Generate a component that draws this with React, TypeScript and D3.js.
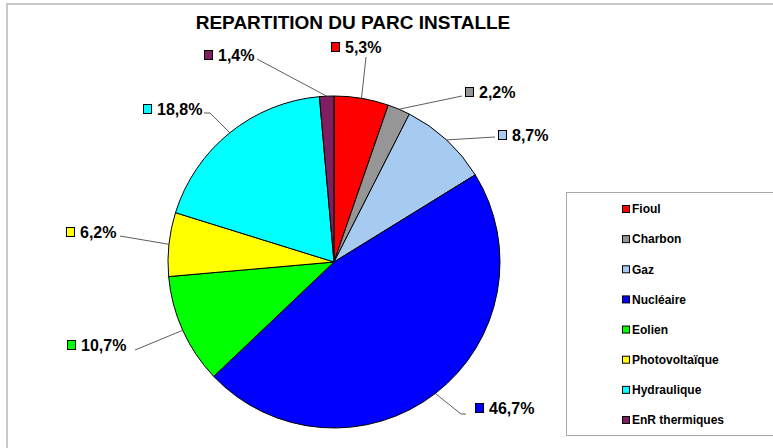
import * as d3 from 'd3';
import React, { useRef, useEffect } from 'react';

const categories = ['Fioul', 'Charbon', 'Gaz', 'Nucléaire', 'Eolien', 'Photovoltaïque', 'Hydraulique', 'EnR thermiques'];
const shares = [5.3, 2.2, 8.7, 46.7, 10.7, 6.2, 18.8, 1.4];
const shareLabels = ['5,3%', '2,2%', '8,7%', '46,7%', '10,7%', '6,2%', '18,8%', '1,4%'];
const colors = ['#ff0000', '#969696', '#a6caf0', '#0000ff', '#00ff00', '#ffff00', '#00ffff', '#7f1f5f'];

// where Excel put each data label: swatch left, label middle, leader start
const labelLayout = [
    { x: 331, y: 47, lx: 366, ly: 57 },
    { x: 465, y: 92, lx: 462, ly: 96 },
    { x: 498, y: 135, lx: 495, ly: 137 },
    { x: 475, y: 408, lx: 466, ly: 414, elbow: true },
    { x: 67, y: 345, lx: 135, ly: 350 },
    { x: 66, y: 232, lx: 120, ly: 236 },
    { x: 143, y: 109, lx: 204, ly: 113, elbow: true },
    { x: 204, y: 55, lx: 257, ly: 59 },
];

const font = 'Liberation Sans, Arial, sans-serif';

function PieChart({ width, height }) {
    const ref = useRef();

    useEffect(() => {
        const svg = d3.select(ref.current);
        svg.selectAll('*').remove();

        const cx = 334, cy = 262, radius = 166;

        // outer chart frame (cut by the window on the right and bottom)
        svg.append('rect')
            .attr('x', 7).attr('y', 4)
            .attr('width', 900).attr('height', 600)
            .style('fill', '#fff')
            .style('stroke', '#c8c8c8')
            .style('stroke-width', 2);

        svg.append('text')
            .attr('x', 353).attr('y', 29)
            .attr('text-anchor', 'middle')
            .style('font-family', font)
            .style('font-weight', 'bold')
            .style('font-size', '19px')
            .text('REPARTITION DU PARC INSTALLE');

        const data = categories.map((c, i) => ({ name: c, value: shares[i], label: shareLabels[i], color: colors[i] }));
        const pie = d3.pie().sort(null).value(d => d.value);
        const arcs = pie(data);
        const arc = d3.arc().innerRadius(0).outerRadius(radius);

        const g = svg.append('g').attr('transform', `translate(${cx},${cy})`);
        g.selectAll('path')
            .data(arcs)
            .enter().append('path')
            .attr('d', arc)
            .style('fill', d => d.data.color)
            .style('stroke', '#000')
            .style('stroke-width', 1);

        // leader lines + labels
        arcs.forEach((a, i) => {
            const lay = labelLayout[i];
            const mid = (a.startAngle + a.endAngle) / 2;
            const ex = cx + radius * Math.sin(mid);
            const ey = cy - radius * Math.cos(mid);
            const pts = [[lay.lx, lay.ly]];
            if (lay.elbow) pts.push([lay.lx + (ex > lay.lx ? 6 : -5), lay.ly]);
            pts.push([ex, ey]);
            svg.append('path')
                .attr('d', d3.line()(pts))
                .style('fill', 'none')
                .style('stroke', '#333')
                .style('stroke-width', 0.8);

            svg.append('rect')
                .attr('x', lay.x + 0.5).attr('y', lay.y - 4.5)
                .attr('width', 8).attr('height', 9)
                .style('fill', a.data.color)
                .style('stroke', '#000')
                .style('stroke-width', 1);
            svg.append('text')
                .attr('x', lay.x + 14).attr('y', lay.y)
                .attr('dy', '0.36em')
                .style('font-family', font)
                .style('font-weight', 'bold')
                .style('font-size', '16px')
                .text(a.data.label);
        });

        // legend
        const legendY = d3.scalePoint().domain(categories).range([209, 420]);
        svg.append('rect')
            .attr('x', 566.5).attr('y', 192.5)
            .attr('width', 300).attr('height', 243)
            .style('fill', '#fff')
            .style('stroke', '#a8a8a8')
            .style('stroke-width', 1);
        const item = svg.selectAll('.legend')
            .data(data)
            .enter().append('g')
            .attr('class', 'legend')
            .attr('transform', d => `translate(622,${legendY(d.name)})`);
        item.append('rect')
            .attr('x', 0.5).attr('y', -3.5)
            .attr('width', 7).attr('height', 7)
            .style('fill', d => d.color)
            .style('stroke', '#000')
            .style('stroke-width', 1);
        item.append('text')
            .attr('x', 10).attr('dy', '0.36em')
            .style('font-family', font)
            .style('font-weight', 'bold')
            .style('font-size', '12px')
            .text(d => d.name);
    }, []);

    return <svg ref={ref} width={width} height={height} style={{ position: 'absolute', left: 0, top: 0 }}></svg>;
}

export default function App() {
    return <PieChart width={773} height={448} />;
}
